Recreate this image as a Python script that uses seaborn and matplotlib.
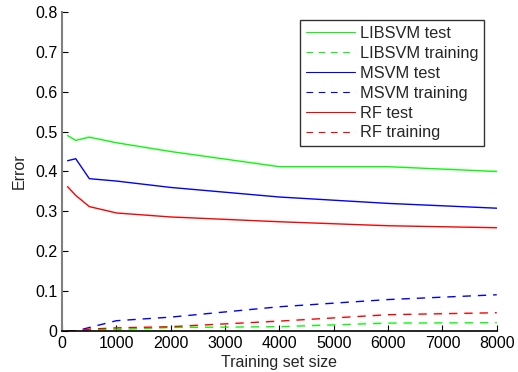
import pandas as pd
import matplotlib
matplotlib.use("Agg")
import matplotlib.pyplot as plt
import seaborn as sns

sizes = [100, 250, 500, 1000, 2000, 4000, 6000, 8000]

libsvm_test = [0.490, 0.478, 0.486, 0.472, 0.450, 0.412, 0.412, 0.400]
libsvm_train = [0.000, 0.000, 0.003, 0.004, 0.009, 0.011, 0.020, 0.021]
msvm_test = [0.427, 0.432, 0.382, 0.376, 0.360, 0.336, 0.320, 0.308]
msvm_train = [0.000, 0.000, 0.009, 0.026, 0.035, 0.061, 0.079, 0.091]
rf_test = [0.362, 0.340, 0.312, 0.296, 0.286, 0.274, 0.264, 0.259]
rf_train = [0.000, 0.000, 0.005, 0.008, 0.011, 0.025, 0.041, 0.046]

series = [
    ("LIBSVM test", libsvm_test, "#00ff00", "-"),
    ("LIBSVM training", libsvm_train, "#00ff00", "--"),
    ("MSVM test", msvm_test, "#0000ff", "-"),
    ("MSVM training", msvm_train, "#0000ff", "--"),
    ("RF test", rf_test, "#ff0000", "-"),
    ("RF training", rf_train, "#ff0000", "--"),
]

sns.set_style("ticks")
plt.rcParams["font.family"] = ["Liberation Sans", "DejaVu Sans"]
plt.rcParams["font.size"] = 10

fig = plt.figure(figsize=(5.18, 3.72), dpi=100)
ax = fig.add_axes([0.12, 0.11, 0.839, 0.858])

for name, vals, color, ls in series:
    df = pd.DataFrame({"size": sizes, "error": vals})
    style = (0, (6, 5)) if ls == "--" else "-"
    sns.lineplot(data=df, x="size", y="error", ax=ax, color=color,
                 linewidth=1.0, linestyle=style, label=name)

ax.set_xlim(0, 8000)
ax.set_ylim(0, 0.8)
ax.set_xticks(range(0, 8001, 1000))
ax.set_yticks([0, 0.1, 0.2, 0.3, 0.4, 0.5, 0.6, 0.7, 0.8])
ax.set_yticklabels(["0", "0.1", "0.2", "0.3", "0.4", "0.5", "0.6", "0.7", "0.8"])
ax.tick_params(direction="in", length=4, labelsize=11.5, colors="black")
ax.set_xlabel("Training set size", fontsize=11.5, labelpad=3)
ax.set_ylabel("Error", fontsize=11.5, labelpad=6)

sns.despine(ax=ax)
ax.spines["left"].set_color("#808080")
ax.spines["left"].set_linewidth(1.5)
ax.spines["bottom"].set_color("black")
ax.spines["bottom"].set_linewidth(1.2)

leg = ax.legend(loc="upper right", bbox_to_anchor=(0.99, 1.0), fontsize=11.8,
                frameon=True, fancybox=False, handlelength=3.0,
                labelspacing=0.3, borderpad=0.35, handletextpad=0.3)
leg.get_frame().set_edgecolor("black")
leg.get_frame().set_linewidth(1.0)
for h in leg.get_lines():
    h.set_linewidth(0.8)

fig.savefig("out.png", dpi=100)
